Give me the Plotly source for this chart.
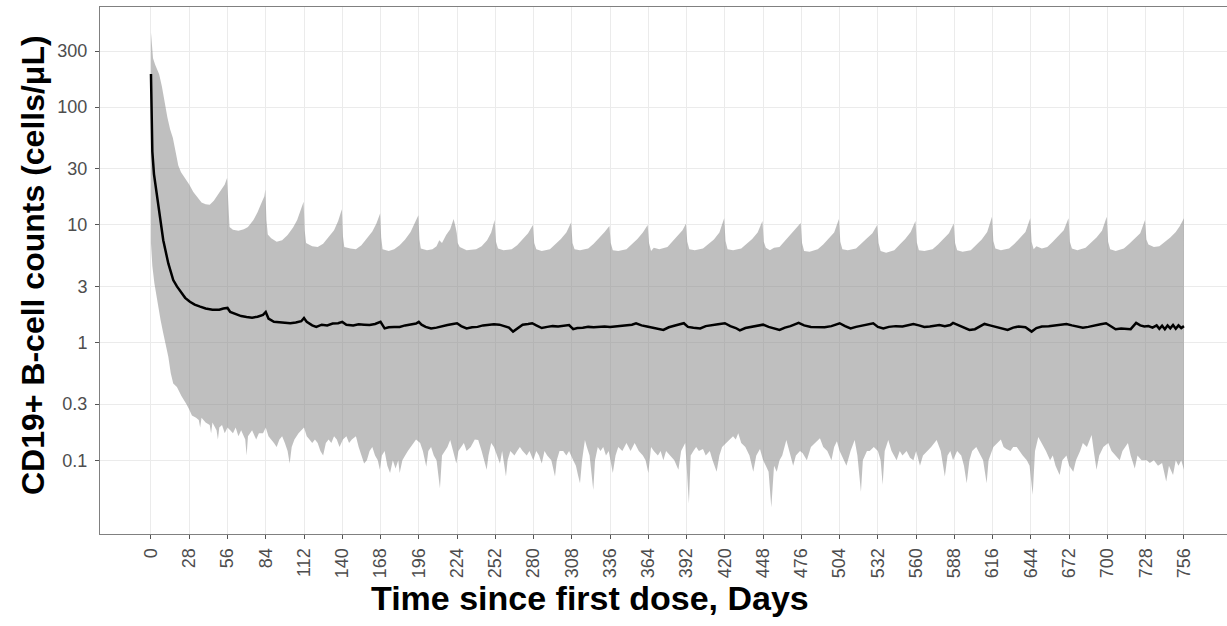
import plotly.graph_objects as go

# ---------------- data ----------------
upper_days = [0, 1.5, 3, 6, 8, 10, 12, 14, 16, 18, 20, 22, 25, 28, 31, 34, 37, 40, 43, 46, 49, 52, 54, 55.7,
              56.5, 57.5, 60, 64, 68, 71, 75, 78, 81, 83, 83.7,
              84.5, 85.5, 88, 92, 96, 100, 104, 107, 110, 111.7,
              112.5, 113.5, 118, 122, 126, 130, 134, 137, 139.7,
              140.5, 141.5, 146, 150, 154, 158, 162, 165, 167.7,
              168.5, 169.5, 174, 178, 182, 186, 190, 193, 195.7,
              196.5, 197.5, 202, 206, 209, 211, 213, 216, 219, 221.5, 223, 223.8,
              224.5, 226, 231, 238, 242, 246, 249, 251.5,
              252.5, 254, 258, 264, 268, 272, 276, 279.5,
              280.5, 282, 286, 292, 296, 300, 304, 307.5,
              308.5, 310, 314, 320, 324, 328, 332, 335.5,
              336.5, 338, 342, 348, 352, 356, 360, 363.5,
              364.5, 366, 368, 372, 378, 382, 386, 389, 391.5,
              392.5, 394, 398, 404, 408, 412, 416, 419.5,
              420.5, 422, 426, 432, 436, 440, 444, 447.5,
              448.5, 450, 453, 456, 460, 464, 468, 472, 475.5,
              476.5, 478, 482, 488, 492, 496, 500, 503.5,
              504.5, 506, 510, 516, 520, 524, 528, 531.5,
              532.5, 534, 538, 544, 548, 552, 556, 559.5,
              560.5, 562, 566, 572, 576, 580, 584, 587.5,
              588.5, 590, 594, 600, 604, 608, 612, 615.5,
              616.5, 618, 622, 628, 632, 636, 640, 643.5,
              644.5, 646, 648, 652, 656, 660, 664, 668, 671.5,
              672.5, 674, 678, 684, 688, 692, 696, 699.5,
              700.5, 702, 706, 712, 716, 720, 724, 727.5,
              728.5, 730, 734, 738, 742, 746, 750, 753, 756]
upper_vals = [430, 260, 230, 190, 150, 110, 82, 65, 55, 42, 32, 28, 25, 22, 19, 17, 15.5, 15, 14.8, 16, 18, 20, 22, 25,
              14, 9.6, 9.1, 8.9, 9.2, 9.6, 11, 12.8, 15.5, 17.5, 20,
              11, 8.3, 7.7, 7.2, 7.4, 8.2, 9.5, 11, 13.5, 15.7,
              9, 7.0, 6.6, 6.5, 6.9, 7.8, 9.0, 10.8, 13.6,
              8, 6.5, 6.3, 6.2, 6.7, 7.6, 8.8, 10.3, 12.5,
              7.8, 6.2, 6.0, 6.2, 6.7, 7.5, 8.7, 10.2, 12.1,
              7.5, 6.3, 6.1, 6.2, 6.6, 7.4, 7.0, 8.2, 9.2, 11.2, 9.5, 8.5,
              7.0, 6.5, 6.1, 6.2, 6.6, 7.4, 8.6, 11.0,
              7.2, 6.3, 6.1, 6.2, 6.7, 7.5, 8.5, 10.0,
              7.0, 6.2, 6.0, 6.2, 6.8, 7.6, 8.6, 10.5,
              7.0, 6.2, 6.1, 6.3, 6.9, 7.7, 8.7, 9.8,
              7.0, 6.1, 6.0, 6.2, 6.8, 7.6, 8.6, 10.0,
              7.0, 6.0, 6.4, 6.2, 6.5, 7.3, 8.3, 9.0, 10.2,
              7.2, 6.2, 6.1, 6.3, 6.9, 7.5, 8.6, 11.4,
              7.3, 6.2, 6.1, 6.3, 6.9, 7.6, 8.6, 10.8,
              7.2, 6.4, 6.1, 6.4, 6.5, 7.3, 8.2, 9.2, 10.4,
              7.0, 6.0, 5.9, 6.2, 6.8, 7.6, 8.6, 11.2,
              7.2, 6.2, 6.1, 6.3, 6.9, 7.7, 8.5, 10.0,
              7.0, 6.0, 5.8, 6.1, 6.8, 7.6, 8.7, 10.8,
              7.1, 6.1, 6.0, 6.2, 6.8, 7.6, 8.5, 10.3,
              7.0, 6.1, 5.9, 6.1, 6.7, 7.5, 8.7, 11.7,
              7.3, 6.3, 6.1, 6.3, 6.9, 7.7, 8.7, 11.4,
              7.2, 6.2, 6.6, 6.3, 6.5, 7.2, 8.0, 9.0, 11.4,
              7.2, 6.3, 6.1, 6.4, 7.0, 7.8, 8.9, 11.7,
              7.2, 6.2, 6.0, 6.3, 6.9, 7.6, 8.5, 11.0,
              7.5, 6.8, 6.5, 6.6, 7.2, 7.8, 8.7, 9.8, 11.4]

lower_days = [0, 1, 2.5, 4.4, 7, 9, 11, 12.7, 14.5, 16.3, 19, 22.4, 26, 28, 30, 33, 35, 36, 37, 40, 43, 44, 45, 48, 49, 50,
              52, 54, 56, 58, 60, 62, 64, 66, 69, 70, 71, 74, 77, 79, 82, 84, 86, 88, 90, 92, 94, 96, 98, 100, 101.5,
              103, 105, 108, 110, 112, 114, 116, 118, 120, 122, 124, 126, 128, 130, 132, 134, 136, 138, 140.5, 143, 145,
              147, 150, 152, 154, 156, 158, 160, 162, 164, 166, 167.5, 169, 171, 173, 175, 177, 179, 181, 182, 184, 186,
              188, 190, 192, 194, 197, 199, 201.5, 203, 205, 207, 209, 211.5, 213, 215, 217, 219, 221, 223.5, 225, 227,
              229, 231, 234, 237, 239.5, 242, 244, 245.7, 247, 249, 251, 253, 255.4, 257, 259.8, 261, 263, 266, 268, 270,
              272, 275, 277, 279.8, 282, 284, 286, 288, 290, 293, 295.7, 297, 299, 301.7, 304, 306, 309, 311, 312.5, 314,
              315.5, 317.6, 319, 321, 323.7, 325, 327, 329, 331, 333, 335, 338, 340, 342, 345, 348, 351, 354, 357, 360,
              362, 364, 366, 368, 371, 373, 375, 377, 380, 383, 386, 388, 391, 393.7, 395, 397, 399, 401, 404, 406, 409,
              411, 414, 416, 418, 421, 423.7, 426, 428, 429.8, 432, 435, 438, 440.8, 443, 445.7, 448, 450, 452, 454, 456,
              458, 460, 462, 465, 467, 470, 472, 475, 477, 480, 483, 486, 489.6, 492, 495, 498, 500, 502, 504, 507, 509,
              512, 515, 517, 519.6, 521, 524, 526, 529, 532, 534, 535.5, 537, 539.6, 542, 545.7, 548, 550, 553, 555.5,
              558, 560, 562.8, 565, 568, 571, 575, 578, 581, 583, 585, 587, 590, 593, 595, 597, 599, 601, 604, 607, 609,
              611.6, 613, 616.5, 619, 622, 624, 626, 629, 631, 633.6, 636, 638, 641, 643, 645.3, 647, 649.4, 652, 655,
              658, 660, 662, 665, 667, 670, 672, 675, 677, 680, 682, 685, 688.4, 690, 692, 694, 697, 700.6, 703, 706, 709,
              711, 713, 715, 717, 720, 722, 725, 728.7, 731, 734, 737, 740, 743, 745, 748, 750, 752, 754, 756]
lower_vals = [7.0, 4.5, 3.2, 2.3, 1.56, 1.2, 0.92, 0.76, 0.55, 0.45, 0.42, 0.35, 0.30, 0.27, 0.24, 0.23, 0.22, 0.19, 0.23,
              0.21, 0.2, 0.17, 0.21, 0.18, 0.15, 0.19,
              0.2, 0.17, 0.19, 0.18, 0.17, 0.19, 0.16, 0.18, 0.15, 0.11, 0.16, 0.18, 0.15, 0.17, 0.17, 0.19, 0.16, 0.15,
              0.14, 0.13, 0.15, 0.16, 0.14, 0.12, 0.094,
              0.13, 0.15, 0.17, 0.18, 0.19, 0.16, 0.15, 0.14, 0.15, 0.14, 0.12, 0.11, 0.14, 0.15, 0.14, 0.16, 0.15, 0.13,
              0.15, 0.16, 0.14,
              0.15, 0.16, 0.13, 0.11, 0.094, 0.1, 0.12, 0.13, 0.11, 0.1, 0.083, 0.11, 0.12, 0.09, 0.078, 0.1, 0.085, 0.1,
              0.078, 0.1, 0.11,
              0.12, 0.13, 0.14, 0.15, 0.14, 0.12, 0.088, 0.12, 0.13, 0.11, 0.1, 0.058, 0.11, 0.12, 0.13, 0.149, 0.12,
              0.094, 0.12, 0.13,
              0.14, 0.12, 0.13, 0.15, 0.149, 0.12, 0.1, 0.083, 0.11, 0.14, 0.13, 0.11, 0.094, 0.12, 0.073, 0.1, 0.12,
              0.11, 0.12, 0.13,
              0.12, 0.11, 0.12, 0.1, 0.12, 0.11, 0.094, 0.12, 0.11, 0.1, 0.073, 0.1, 0.12, 0.12, 0.11, 0.12, 0.1, 0.09,
              0.075, 0.064,
              0.1, 0.149, 0.13, 0.11, 0.056, 0.1, 0.13, 0.12, 0.13, 0.11, 0.12, 0.078, 0.11, 0.13, 0.12, 0.14, 0.12, 0.14,
              0.12, 0.11,
              0.1, 0.078, 0.13, 0.12, 0.11, 0.12, 0.1, 0.12, 0.11, 0.1, 0.083, 0.12, 0.14, 0.043, 0.11, 0.12, 0.13, 0.12,
              0.125, 0.11, 0.12,
              0.1, 0.08, 0.11, 0.13, 0.14, 0.15, 0.16, 0.15, 0.17, 0.14, 0.13, 0.11, 0.08, 0.11, 0.125, 0.1, 0.09, 0.08,
              0.04, 0.09,
              0.08, 0.1, 0.11, 0.149, 0.12, 0.09, 0.11, 0.12, 0.115, 0.1, 0.13, 0.14, 0.154, 0.13, 0.12, 0.1, 0.13, 0.145,
              0.12, 0.1, 0.09,
              0.12, 0.149, 0.11, 0.054, 0.1, 0.12, 0.12, 0.13, 0.12, 0.1, 0.062, 0.12, 0.149, 0.12, 0.1, 0.12, 0.11, 0.12,
              0.105,
              0.1, 0.12, 0.09, 0.11, 0.12, 0.13, 0.149, 0.12, 0.073, 0.11, 0.12, 0.1, 0.12, 0.11, 0.09, 0.064, 0.1, 0.12,
              0.13, 0.11, 0.1,
              0.064, 0.1, 0.13, 0.14, 0.15, 0.13, 0.125, 0.12, 0.13, 0.13, 0.12, 0.11, 0.1, 0.09, 0.051, 0.12, 0.158,
              0.14, 0.12,
              0.1, 0.11, 0.09, 0.075, 0.1, 0.11, 0.09, 0.08, 0.1, 0.12, 0.14, 0.13, 0.164, 0.12, 0.083, 0.11, 0.13, 0.14,
              0.12, 0.11, 0.1,
              0.12, 0.13, 0.14, 0.11, 0.085, 0.11, 0.1, 0.1, 0.095, 0.1, 0.09, 0.095, 0.066, 0.09, 0.075, 0.1, 0.09, 0.1,
              0.083]

median_days = [0, 0.6, 1, 2.2, 4.1, 6.6, 9, 12.7, 16.3, 19, 22.4, 25, 28.5, 32, 36, 40, 45, 50, 53, 56, 58, 62, 66, 70,
               74, 78, 82, 84, 86, 90, 94, 98, 102, 106, 110, 112, 114, 118, 121, 125, 129, 133, 137, 140, 143, 148, 152,
               156, 160, 164, 168, 171, 174, 178, 182, 186, 190, 194, 196,
               198, 201, 205, 209, 213, 217, 221, 224, 227, 231, 235, 239, 243, 247, 251, 255, 259, 262, 265, 268, 272,
               276, 279, 282, 286, 290, 294, 298, 302, 306, 309, 312, 316, 320, 324, 328, 332, 336, 340, 344, 348, 352,
               355, 359, 363, 367, 371, 375, 379, 383, 387, 390, 393, 397, 402, 406, 410, 415, 420, 424, 428, 431, 435,
               439, 444, 448, 452, 456, 460, 464, 468, 474, 478, 483, 488, 493, 498, 504, 508, 512, 516, 520, 524, 528.6,
               532, 536, 540, 545, 550, 554, 558, 562, 566, 570, 574, 577, 581, 585, 587, 591, 595, 599, 603, 606, 610,
               614, 618, 622, 627, 631, 635, 640, 644.5, 648, 652, 657, 662, 666, 670, 674, 678, 682, 686, 690, 695, 699,
               702, 706, 710, 714, 717, 721, 724, 727, 730, 733, 736, 738, 740, 742, 744, 746, 748, 750, 752, 754, 756]
median_vals = [191, 60, 42, 27, 18.6, 11.7, 7.4, 4.7, 3.4, 3.0, 2.62, 2.4, 2.22, 2.1, 2.02, 1.95, 1.9, 1.9, 1.95, 1.97,
               1.82, 1.75, 1.68, 1.65, 1.63, 1.66, 1.72, 1.82, 1.6, 1.5, 1.48, 1.47, 1.46, 1.48, 1.52, 1.62, 1.5, 1.4,
               1.36, 1.42, 1.4, 1.45, 1.46, 1.5, 1.42, 1.4, 1.43, 1.42, 1.41, 1.44, 1.5, 1.32, 1.35, 1.36, 1.36, 1.4,
               1.43, 1.45, 1.5,
               1.42, 1.36, 1.32, 1.34, 1.38, 1.41, 1.44, 1.46, 1.38, 1.32, 1.35, 1.36, 1.4, 1.42, 1.43, 1.42, 1.38, 1.34,
               1.24, 1.32, 1.42, 1.44, 1.46, 1.4, 1.33, 1.36, 1.38, 1.37, 1.4, 1.41, 1.3, 1.33, 1.34, 1.36, 1.35, 1.36,
               1.37, 1.36, 1.37, 1.38, 1.4, 1.42, 1.46, 1.4, 1.37, 1.34, 1.32, 1.28, 1.35, 1.4, 1.43, 1.46, 1.36, 1.34,
               1.32, 1.38, 1.41, 1.43, 1.46, 1.38, 1.33, 1.27, 1.33, 1.36, 1.4, 1.42, 1.36, 1.32, 1.28, 1.34, 1.38, 1.47,
               1.4, 1.36, 1.36, 1.35, 1.38, 1.46, 1.38, 1.32, 1.36, 1.39, 1.42, 1.46, 1.36, 1.32, 1.36, 1.38, 1.37, 1.4,
               1.44, 1.4, 1.36, 1.37, 1.39, 1.41, 1.38, 1.41, 1.47, 1.4, 1.34, 1.28, 1.3, 1.36, 1.44, 1.4, 1.36, 1.33,
               1.28, 1.34, 1.37, 1.35, 1.24, 1.33, 1.37, 1.38, 1.4, 1.42, 1.44, 1.4, 1.36, 1.34, 1.36, 1.4, 1.43, 1.46,
               1.38, 1.3, 1.32, 1.3, 1.3, 1.47, 1.4, 1.37, 1.38, 1.34, 1.4, 1.31, 1.39, 1.3, 1.4, 1.32, 1.41, 1.31, 1.4,
               1.33, 1.38]

x_ticks = list(range(0, 757, 28))
y_ticks = [0.1, 0.3, 1, 3, 10, 30, 100, 300]
y_tick_text = ["0.1", "0.3", "1", "3", "10", "30", "100", "300"]

x_title = "Time since first dose, Days"
y_title = "CD19+ B-cell counts (cells/μL)"

# ---------------- figure ----------------
fig = go.Figure()

fig.add_trace(go.Scatter(
    x=upper_days + lower_days[::-1],
    y=upper_vals + lower_vals[::-1],
    fill="toself",
    fillcolor="rgba(127,127,127,0.5)",
    line=dict(width=0),
    mode="lines",
    hoverinfo="skip",
    showlegend=False,
))

fig.add_trace(go.Scatter(
    x=median_days, y=median_vals,
    mode="lines",
    line=dict(color="black", width=2.5),
    showlegend=False,
))

font_family = "Liberation Sans, Arial, sans-serif"

fig.update_layout(
    width=1227, height=626,
    margin=dict(l=100, r=0, t=7, b=92),
    paper_bgcolor="white",
    plot_bgcolor="white",
    font=dict(family=font_family),
    xaxis=dict(
        range=[-37.3, 787.5],
        tickmode="array", tickvals=x_ticks, ticktext=[str(v) for v in x_ticks],
        tickangle=-90,
        tickfont=dict(size=18, color="#4D4D4D", family=font_family),
        ticks="outside", ticklen=4, tickcolor="#555555", tickwidth=1,
        ticklabelstandoff=2,
        showgrid=True, gridcolor="#EBEBEB", gridwidth=1,
        showline=True, linecolor="#808080", linewidth=1, mirror=True,
        zeroline=False,
    ),
    yaxis=dict(
        type="log",
        range=[-1.626, 2.851],
        tickmode="array", tickvals=y_ticks, ticktext=y_tick_text,
        tickfont=dict(size=18, color="#4D4D4D", family=font_family),
        ticks="outside", ticklen=4, tickcolor="#555555", tickwidth=1,
        ticklabelstandoff=4,
        showgrid=True, gridcolor="#EBEBEB", gridwidth=1,
        showline=True, linecolor="#808080", linewidth=1,
        zeroline=False,
    ),
    annotations=[
        dict(text=f"<b>{x_title}</b>", xref="paper", yref="paper",
             x=0.4348, y=-0.1214, xanchor="center", yanchor="middle",
             showarrow=False, font=dict(size=34, color="black", family=font_family)),
        dict(text=f"<b>{y_title}</b>", xref="paper", yref="paper",
             x=-0.0594, y=0.5104, xanchor="center", yanchor="middle", textangle=-90,
             showarrow=False, font=dict(size=32, color="black", family=font_family)),
    ],
)

fig.write_html("out.html")
